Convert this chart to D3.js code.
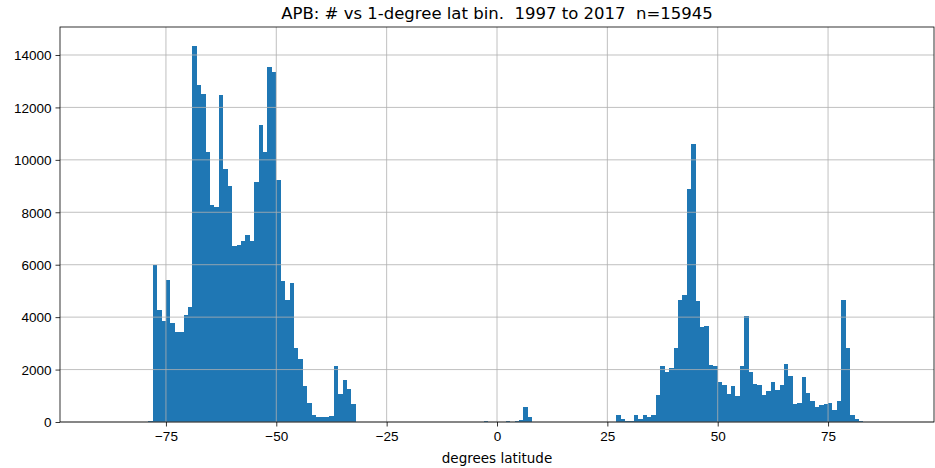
<!DOCTYPE html>
<html>
<head>
<meta charset="utf-8">
<script src="https://cdn.jsdelivr.net/npm/d3@7"></script>
<style>
  body { margin: 0; background: #fff; }
  svg { display: block; font-family: "DejaVu Sans", sans-serif; }
  .tick text { font-size: 13.5px; fill: #000; }
  .grid line { stroke: #b0b0b0; stroke-width: 0.8; }
</style>
</head>
<body>
<svg id="chart"></svg>
<script>
/* ---------- Data (1-degree bins, left edge -> count) ---------- */
const binLats = [
  -79, -78, -77, -76, -75, -74, -73, -72, -71, -70,
  -69, -68, -67, -66, -65, -64, -63, -62, -61, -60,
  -59, -58, -57, -56, -55, -54, -53, -52, -51, -50,
  -49, -48, -47, -46, -45, -44, -43, -42, -41, -40,
  -39, -38, -37, -36, -35, -34, -33,
  -3, 2, 4, 5, 6, 7,
  27, 28, 29, 30, 31, 32, 33, 34, 35, 36,
  37, 38, 39, 40, 41, 42, 43, 44, 45, 46,
  47, 48, 49, 50, 51, 52, 53, 54, 55, 56,
  57, 58, 59, 60, 61, 62, 63, 64, 65, 66,
  67, 68, 69, 70, 71, 72, 73, 74, 75, 76,
  77, 78, 79, 80, 81, 82
];
const binCounts = [
  30, 5970, 4255, 3870, 5400, 3770, 3430, 3430, 4090, 4380,
  14350, 12865, 12510, 10310, 8290, 8220, 12470, 9650, 8990, 6700,
  6760, 6920, 7150, 6920, 9170, 11330, 10290, 13530, 13370, 9250,
  5360, 4660, 5300, 2830, 2410, 1360, 720, 260, 180, 190,
  190, 230, 2150, 1060, 1610, 1260, 690,
  40, 30, 40, 90, 570, 200,
  280, 100, 50, 50, 280, 125, 250, 180, 280, 1020,
  2150, 1900, 2070, 2820, 4640, 4840, 8890, 10620, 4600, 3640,
  3670, 2190, 2120, 1520, 1400, 1065, 1360, 985, 2140, 4060,
  1910, 1450, 1410, 1020, 1170, 1520, 1210, 1400, 2210, 1750,
  705, 730, 1710, 1090, 790, 580, 650, 680, 730, 440,
  820, 4670, 2840, 250, 100, 40
];
const binWidth = 1;
const latRange = [-90, 90];
const xTicks = [-75, -50, -25, 0, 25, 50, 75];
const yTicks = [0, 2000, 4000, 6000, 8000, 10000, 12000, 14000];
const title = "APB: # vs 1-degree lat bin.  1997 to 2017  n=15945";
const xLabel = "degrees latitude";

/* ---------- Layout ---------- */
const W = 935, H = 468;
const margin = {top: 27, right: 1, bottom: 46, left: 60};
const svg = d3.select("#chart").attr("width", W).attr("height", H);

const bins = binLats.map((lat, i) => ({lat, count: binCounts[i]}));

// matplotlib-style 5% padding on both axes
const pad = (latRange[1] - latRange[0]) * 0.05;
const x = d3.scaleLinear()
    .domain([latRange[0] - pad, latRange[1] + pad])
    .range([margin.left, W - margin.right]);
const y = d3.scaleLinear()
    .domain([0, d3.max(binCounts) * 1.05])
    .range([H - margin.bottom, margin.top]);

/* ---------- Bars ---------- */
// crisp edges: neighbouring bins snap to the same pixel, no hairline seams
svg.append("g")
    .attr("shape-rendering", "crispEdges")
    .selectAll("rect")
    .data(bins)
    .join("rect")
    .attr("x", d => x(d.lat))
    .attr("width", d => x(d.lat + binWidth) - x(d.lat))
    .attr("y", d => y(d.count))
    .attr("height", d => y(0) - y(d.count))
    .attr("fill", "#1f77b4");

/* ---------- Grid (above bars, like matplotlib) ---------- */
const grid = svg.append("g").attr("class", "grid");
grid.selectAll(".gx").data(xTicks).join("line")
    .attr("x1", d => x(d)).attr("x2", d => x(d))
    .attr("y1", y.range()[0]).attr("y2", y.range()[1]);
grid.selectAll(".gy").data(yTicks).join("line")
    .attr("x1", x.range()[0]).attr("x2", x.range()[1])
    .attr("y1", d => y(d)).attr("y2", d => y(d));

/* ---------- Axes ---------- */
const fmt = d => d3.format("d")(d).replace("-", "\u2212");

const gx = svg.append("g")
    .attr("transform", `translate(0,${H - margin.bottom})`)
    .call(d3.axisBottom(x).tickValues(xTicks).tickFormat(fmt).tickSize(4.5).tickPadding(5));
const gy = svg.append("g")
    .attr("transform", `translate(${margin.left},0)`)
    .call(d3.axisLeft(y).tickValues(yTicks).tickFormat(d3.format("d")).tickSize(4.5).tickPadding(4));

[gx, gy].forEach(g => {
    g.select(".domain").remove();
    g.selectAll(".tick line").attr("stroke", "#000").attr("stroke-width", 0.8);
});
gy.selectAll(".tick text").attr("dy", "0.35em");

// frame
svg.append("rect")
    .attr("x", x.range()[0]).attr("y", y.range()[1])
    .attr("width", x.range()[1] - x.range()[0])
    .attr("height", y.range()[0] - y.range()[1])
    .attr("fill", "none").attr("stroke", "#000").attr("stroke-width", 0.8);

/* ---------- Labels ---------- */
svg.append("text")
    .attr("x", (x.range()[0] + x.range()[1]) / 2).attr("y", 19)
    .attr("text-anchor", "middle").attr("font-size", 16.5)
    .style("white-space", "pre")
    .text(title);

svg.append("text")
    .attr("x", (x.range()[0] + x.range()[1]) / 2).attr("y", 463)
    .attr("text-anchor", "middle").attr("font-size", 13.5)
    .text(xLabel);
</script>
</body>
</html>
